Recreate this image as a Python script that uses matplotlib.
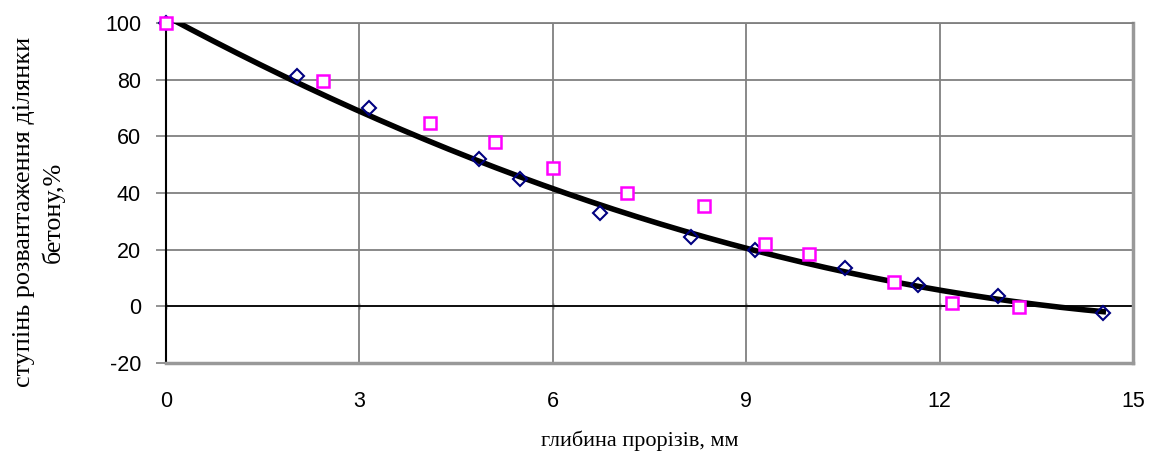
import matplotlib.pyplot as plt
import numpy as np

plt.rcParams['axes.unicode_minus'] = False

# depth of cuts, mm / degree of unloading, %
x_diam = [0, 2.03, 3.15, 4.85, 5.49, 6.73, 8.14, 9.13, 10.54, 11.66, 12.9, 14.54]
y_diam = [100, 81.5, 70.2, 52.2, 44.8, 32.8, 24.4, 19.8, 13.4, 7.4, 3.5, -2.5]

x_sq = [0, 2.43, 4.09, 5.1, 6.0, 7.15, 8.34, 9.29, 9.98, 11.3, 12.2, 13.24]
y_sq = [100, 79.4, 64.6, 58.2, 48.7, 40.2, 35.3, 21.9, 18.4, 8.6, 1.2, -0.2]

xticks = [0, 3, 6, 9, 12, 15]
yticks = [-20, 0, 20, 40, 60, 80, 100]

fig = plt.figure(figsize=(11.49, 4.54), dpi=100)
ax = fig.add_axes([0.1445, 0.2004, 0.8415, 0.7486])

# polynomial trendline (order 2) of the first series
coef = np.polyfit(x_diam, y_diam, 2)
xt = np.linspace(0, max(x_diam), 200)
ax.plot(xt, np.polyval(coef, xt), color='black', lw=4, zorder=3)

ax.plot(x_diam, y_diam, 'D', ms=7, mfc='none', mec='#000080', mew=1.5, zorder=4,
        clip_on=False)
ax.plot(x_sq, y_sq, 's', ms=9, mfc='white', mec='#ff00ff', mew=1.8, zorder=5,
        clip_on=False)

ax.set_xlim(0, 15)
ax.set_ylim(-20, 100)
ax.set_xticks(xticks)
ax.set_yticks(yticks)
ax.grid(True, color='#808080', lw=1.3)
ax.set_axisbelow(True)
ax.axhline(0, color='black', lw=1.2, zorder=2)

ax.spines['top'].set_color('#808080')
ax.spines['top'].set_linewidth(1.3)
for s in ['right', 'bottom']:
    ax.spines[s].set_color('#999999')
    ax.spines[s].set_linewidth(2.5)
ax.spines['left'].set_color('black')
ax.spines['left'].set_linewidth(1.5)

ax.tick_params(axis='x', length=0, pad=20, labelsize=15.5)
ax.tick_params(axis='y', length=7, width=1.2, color='#808080', direction='out',
               labelsize=15.5, pad=11)
for lab in ax.get_xticklabels() + ax.get_yticklabels():
    lab.set_fontfamily('Liberation Sans')

# zero axis with its own tick marks
sec = ax.secondary_xaxis(1 / 6)
sec.set_xticks(xticks)
sec.tick_params(axis='x', length=5, width=1, direction='inout', labelbottom=False)
sec.spines['bottom'].set_linewidth(1.2)
sec.spines['bottom'].set_color('black')

ax.set_xlabel('глибина прорізів, мм', family='Liberation Serif', fontsize=16)
ax.xaxis.set_label_coords(0.49, -0.2)
ax.set_ylabel('ступінь розвантаження ділянки\nбетону,%', family='Liberation Serif',
              fontsize=18.8, linespacing=1.35)
ax.yaxis.set_label_coords(-0.105, 0.444)

plt.savefig('out.png', dpi=100)
